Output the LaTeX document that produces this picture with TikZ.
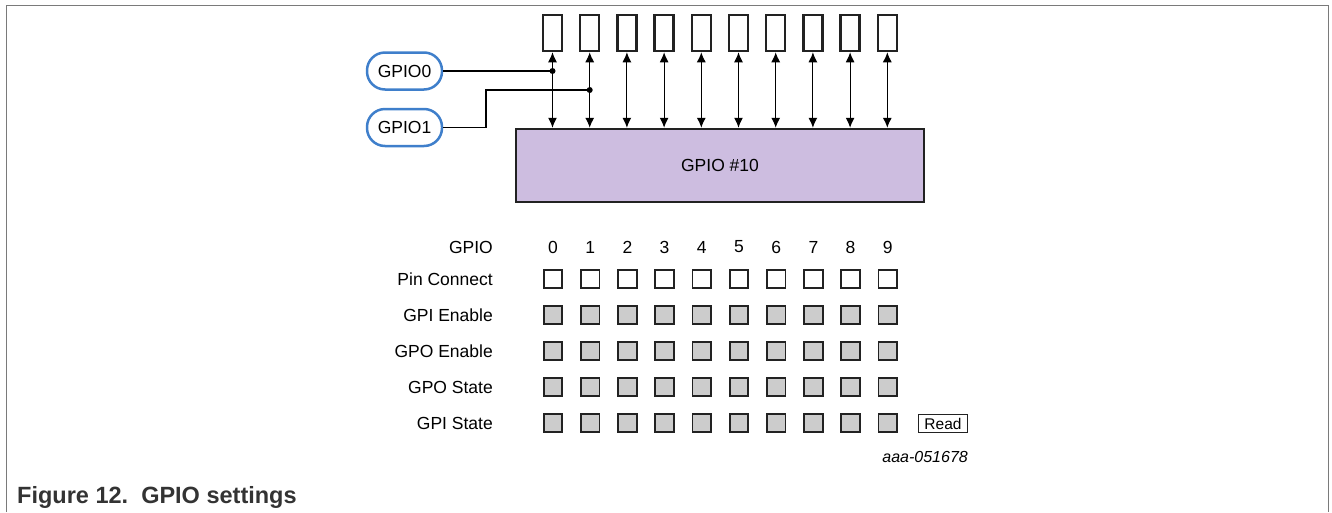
\documentclass[tikz,border=0pt]{standalone}
\usepackage{fontspec}
\setmainfont{Liberation Sans}
\usetikzlibrary{arrows.meta}
\definecolor{frame}{HTML}{7A7A7A}
\definecolor{dark}{HTML}{222222}
\definecolor{lav}{HTML}{CDBDE0}
\definecolor{pillblue}{HTML}{3F7FCB}
\definecolor{sqgray}{HTML}{CCCCCC}
\definecolor{captxt}{HTML}{333333}
\begin{document}
\begin{tikzpicture}[x=1pt,y=-1pt,
  txt/.style={font=\fontsize{17.5}{20}\selectfont, inner sep=0pt},
  pinbox/.style={draw=dark, line width=2.5pt, minimum width=19pt, minimum height=36pt, inner sep=0pt},
  gpiobox/.style={draw=dark, fill=lav, line width=2.5pt, minimum width=408pt, minimum height=73pt, inner sep=0pt, font=\fontsize{17.5}{20}\selectfont},
  pill/.style={draw=pillblue, line width=2.5pt, rounded corners=18pt, minimum width=75pt, minimum height=37pt, inner sep=0pt, font=\fontsize{17.5}{20}\selectfont},
  sqwhite/.style={draw=dark, line width=1.8pt, fill=white, minimum width=18.5pt, minimum height=18.5pt, inner sep=0pt},
  sqgrey/.style={draw=dark, line width=1.8pt, fill=sqgray, minimum width=18.5pt, minimum height=18.5pt, inner sep=0pt},
  biarrow/.style={line width=1.1pt, {Latex[length=10pt,width=9pt]}-{Latex[length=10pt,width=9pt]}},
  wire/.style={line width=1.1pt},
  dot/.style={circle, fill=black, inner sep=0pt, minimum size=6pt},
  readbox/.style={draw=dark, line width=1.2pt, minimum width=49pt, minimum height=18pt, inner sep=0pt, font=\fontsize{15.5}{18}\selectfont},
  rowlabel/.style={txt, anchor=east}
]
\useasboundingbox (0,0) rectangle (1332,512);
% frame
\draw[frame, line width=1.5pt] (6.5,512) -- (6.5,5.5) -- (1328.5,5.5) -- (1328.5,512);

% pins and main box
\node[gpiobox] (gpio) at (720,165.5) {GPIO \#10};
\foreach \i in {0,...,9} {
  \node[pinbox] (p\i) at ({552.5+37.2*\i},33) {};
  \draw[biarrow] (p\i.south) -- (p\i.south |- gpio.north);
}

% GPIO pills
\node[pill] (g0) at (404.5,71) {GPIO0};
\node[pill] (g1) at (404.5,127.5) {GPIO1};
\coordinate (j0) at (p0.south |- g0.east);
\coordinate (j1) at (p1.south |- 0,90);
\coordinate (bend) at (486,90);
\draw[wire] (g0.east) -- (j0);
\draw[wire] (g1.east) -| (bend) -- (j1);
\node[dot] (d0) at (j0) {};
\node[dot] (d1) at (j1) {};

% table
\node[rowlabel] (lgpio) at (493,247) {GPIO};
\node[rowlabel] (lpin) at (493,279) {Pin Connect};
\node[rowlabel] (lgpie) at (493,315) {GPI Enable};
\node[rowlabel] (lgpoe) at (493,351) {GPO Enable};
\node[rowlabel] (lgpos) at (493,387) {GPO State};
\node[rowlabel] (lgpis) at (493,423) {GPI State};
\foreach \i in {0,...,9} {
  \node[txt] (n\i) at ({553+37.2*\i},247) {\i};
  \node[sqwhite] (pc\i) at ({553+37.2*\i},279) {};
  \node[sqgrey] (ie\i) at ({553+37.2*\i},315) {};
  \node[sqgrey] (oe\i) at ({553+37.2*\i},351) {};
  \node[sqgrey] (os\i) at ({553+37.2*\i},387) {};
  \node[sqgrey] (is\i) at ({553+37.2*\i},423) {};
}
\node[readbox] (read) at (943,423.5) {Read};
\node[anchor=east, inner sep=0pt, font=\fontsize{16}{18}\selectfont\itshape] (code) at (968,457) {aaa-051678};

% caption
\node[anchor=base west, inner sep=0pt, text=captxt, font=\fontsize{23.5}{27}\selectfont\bfseries] (cap) at (17,503) {Figure 12.\ \ GPIO settings};
\end{tikzpicture}
\end{document}
